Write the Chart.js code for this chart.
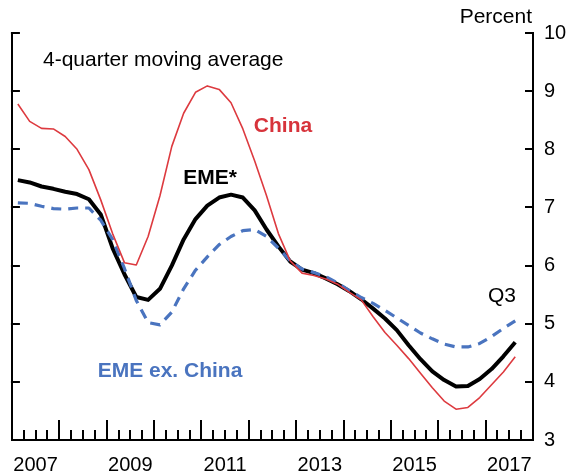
<!DOCTYPE html>
<html>
<head>
<meta charset="utf-8">
<script src="https://cdn.jsdelivr.net/npm/chart.js@4"></script>
<style>
  body { margin: 0; background: #fff; }
  canvas { display: block; }
</style>
</head>
<body>
<canvas id="growthChart" width="569" height="471"></canvas>
<script>
// Quarterly data, 2007Q1 - 2017Q3 (4-quarter moving average, percent)
const quarters = [
  "2007Q1", "2007Q2", "2007Q3", "2007Q4",
  "2008Q1", "2008Q2", "2008Q3", "2008Q4",
  "2009Q1", "2009Q2", "2009Q3", "2009Q4",
  "2010Q1", "2010Q2", "2010Q3", "2010Q4",
  "2011Q1", "2011Q2", "2011Q3", "2011Q4",
  "2012Q1", "2012Q2", "2012Q3", "2012Q4",
  "2013Q1", "2013Q2", "2013Q3", "2013Q4",
  "2014Q1", "2014Q2", "2014Q3", "2014Q4",
  "2015Q1", "2015Q2", "2015Q3", "2015Q4",
  "2016Q1", "2016Q2", "2016Q3", "2016Q4",
  "2017Q1", "2017Q2", "2017Q3",
];

const china = [
  8.78, 8.48, 8.36, 8.35, 8.22, 8.0, 7.65, 7.13,
  6.55, 6.05, 6.01, 6.5, 7.2, 8.05, 8.62, 8.98,
  9.09, 9.03, 8.8, 8.35, 7.8, 7.2, 6.55, 6.08,
  5.87, 5.83, 5.77, 5.68, 5.54, 5.41, 5.12, 4.85,
  4.63, 4.4, 4.15, 3.9, 3.67, 3.53, 3.56, 3.73,
  3.95, 4.17, 4.43,
];

const eme = [
  7.47, 7.43, 7.36, 7.32, 7.27, 7.23, 7.14, 6.88,
  6.3, 5.85, 5.46, 5.41, 5.6, 6.0, 6.45, 6.8,
  7.03, 7.17, 7.22, 7.17, 6.95, 6.62, 6.33, 6.07,
  5.93, 5.87, 5.78, 5.68, 5.56, 5.42, 5.26, 5.09,
  4.89, 4.63, 4.39, 4.18, 4.03, 3.92, 3.93, 4.05,
  4.22, 4.44, 4.68,
];

const emeExChina = [
  7.08, 7.07, 7.02, 6.98, 6.97, 6.99, 6.99, 6.78,
  6.45, 5.95, 5.4, 5.02, 4.98, 5.2, 5.6, 5.92,
  6.15, 6.36, 6.5, 6.6, 6.62, 6.5, 6.3, 6.08,
  5.94, 5.88, 5.81, 5.7, 5.57, 5.45, 5.35, 5.23,
  5.1, 4.97, 4.84, 4.74, 4.65, 4.6, 4.6, 4.66,
  4.78, 4.92, 5.05,
];

// Years that get a label on the x axis
const yearLabels = [2007, 2009, 2011, 2013, 2015, 2017];

const FONT = "'Liberation Sans', Arial, sans-serif";

// quarter "2009Q3" -> position in years (middle of the quarter)
function quarterPos(q) {
  const year = parseInt(q.slice(0, 4));
  const n = parseInt(q.slice(5));
  return year + (n - 0.5) / 4;
}

function toPoints(values) {
  return values.map((v, i) => ({ x: quarterPos(quarters[i]), y: v }));
}

// Inward tick marks plus the text labels
const decorations = {
  id: "decorations",
  afterDraw(chart) {
    const ctx = chart.ctx;
    const area = chart.chartArea;
    const xs = chart.scales.x;
    const ys = chart.scales.y;

    ctx.save();
    ctx.strokeStyle = "#000";
    ctx.lineWidth = 2;
    ctx.beginPath();
    for (let k = 1; k < 44; k++) {
      const px = Math.round(xs.getPixelForValue(2007 + k / 4));
      const len = k % 4 === 0 ? 20 : 10;
      ctx.moveTo(px, area.bottom);
      ctx.lineTo(px, area.bottom - len);
    }
    for (let v = 4; v <= 10; v++) {
      const py = Math.round(ys.getPixelForValue(v));
      ctx.moveTo(area.left - 1, py);
      ctx.lineTo(area.left + 8, py);
      ctx.moveTo(area.right + 1, py);
      ctx.lineTo(area.right - 8, py);
    }
    ctx.stroke();

    ctx.textBaseline = "middle";
    ctx.font = "21px " + FONT;
    ctx.fillStyle = "#000";
    ctx.textAlign = "left";
    ctx.fillText("4-quarter moving average", 43, 60);
    ctx.textAlign = "right";
    ctx.fillText("Percent", 532, 17);
    ctx.textAlign = "center";
    ctx.fillText("Q3", 502, 296);

    ctx.font = "bold 21px " + FONT;
    ctx.fillStyle = "#d7333b";
    ctx.fillText("China", 283, 126);
    ctx.fillStyle = "#000";
    ctx.fillText("EME*", 210, 178);
    ctx.fillStyle = "#4a74bf";
    ctx.fillText("EME ex. China", 170, 371);
    ctx.restore();
  },
};

new Chart(document.getElementById("growthChart"), {
  type: "line",
  data: {
    datasets: [
      {
        label: "China",
        data: toPoints(china),
        borderColor: "#dd3a3f",
        borderWidth: 1.6,
      },
      {
        label: "EME ex. China",
        data: toPoints(emeExChina),
        borderColor: "#4a74bf",
        borderWidth: 3.2,
        borderDash: [10, 7],
      },
      {
        label: "EME*",
        data: toPoints(eme),
        borderColor: "#000",
        borderWidth: 4,
      },
    ],
  },
  options: {
    responsive: false,
    animation: false,
    devicePixelRatio: 1,
    layout: { padding: { top: 33, left: 0, right: 0, bottom: 0 } },
    elements: {
      point: { radius: 0 },
      line: { tension: 0, borderJoinStyle: "round", borderCapStyle: "butt" },
    },
    plugins: {
      legend: { display: false },
      tooltip: { enabled: false },
    },
    scales: {
      x: {
        type: "linear",
        position: "bottom",
        min: 2007,
        max: 2018,
        afterBuildTicks: (scale) => {
          scale.ticks = yearLabels.map((y) => ({ value: y + 0.5 }));
        },
        afterFit: (scale) => {
          scale.height = 31;
        },
        ticks: {
          autoSkip: false,
          maxRotation: 0,
          padding: 13,
          color: "#000",
          font: { family: FONT, size: 20 },
          callback: (value) => String(Math.floor(value)),
        },
        grid: { display: false, drawTicks: false },
        border: { display: true, color: "#000", width: 2 },
      },
      y: {
        position: "right",
        min: 3,
        max: 10,
        afterFit: (scale) => {
          scale.width = 36;
        },
        ticks: {
          stepSize: 1,
          padding: 11,
          color: "#000",
          font: { family: FONT, size: 20 },
        },
        grid: { display: false, drawTicks: false },
        border: { display: true, color: "#000", width: 2 },
      },
      yLeft: {
        position: "left",
        min: 3,
        max: 10,
        afterFit: (scale) => {
          scale.width = 8;
        },
        ticks: { display: false },
        grid: { display: false, drawTicks: false },
        border: { display: true, color: "#000", width: 2 },
      },
    },
  },
  plugins: [decorations],
});
</script>
</body>
</html>
